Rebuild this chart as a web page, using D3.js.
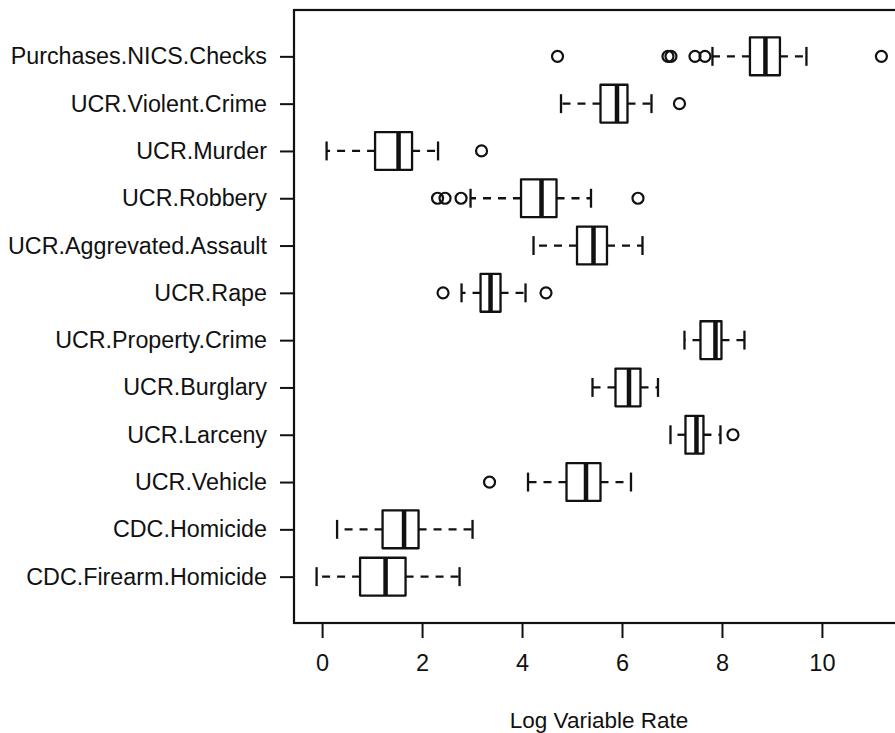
<!DOCTYPE html>
<html>
<head>
<meta charset="utf-8">
<script src="https://cdn.jsdelivr.net/npm/d3@7"></script>
<style>
  html, body { margin: 0; padding: 0; background: #fff; }
  svg { display: block; font-family: "Liberation Sans", Arial, Helvetica, sans-serif; }
  .axis text { fill: #111; }
</style>
</head>
<body>
<div id="chart"></div>
<script>
/* Horizontal boxplots of log rates, R style. */

// top to bottom
var categories = [
  "Purchases.NICS.Checks", "UCR.Violent.Crime", "UCR.Murder", "UCR.Robbery",
  "UCR.Aggrevated.Assault", "UCR.Rape", "UCR.Property.Crime", "UCR.Burglary",
  "UCR.Larceny", "UCR.Vehicle", "CDC.Homicide", "CDC.Firearm.Homicide"
];
var whiskerLow  = [7.81, 4.78, 0.09, 2.97, 4.23, 2.79, 7.25, 5.41, 6.97, 4.12, 0.30, -0.11];
var lowerQuart  = [8.56, 5.57, 1.06, 3.98, 5.10, 3.17, 7.57, 5.87, 7.27, 4.89, 1.21, 0.76];
var medians     = [8.87, 5.90, 1.53, 4.39, 5.43, 3.37, 7.87, 6.14, 7.49, 5.28, 1.64, 1.27];
var upperQuart  = [9.16, 6.11, 1.80, 4.69, 5.70, 3.57, 7.99, 6.37, 7.63, 5.57, 1.93, 1.67];
var whiskerHigh = [9.69, 6.59, 2.32, 5.38, 6.41, 4.07, 8.45, 6.72, 7.97, 6.18, 3.01, 2.75];
var outliers = [
  [4.71, 6.92, 6.98, 7.46, 7.66, 11.19],
  [7.15],
  [3.19],
  [2.31, 2.46, 2.78, 6.32],
  [],
  [2.42, 4.48],
  [],
  [],
  [8.22],
  [3.35],
  [],
  []
];
var xTicks = [0, 2, 4, 6, 8, 10];
var xLabel = "Log Variable Rate";

(function render() {
  var width = 895, height = 733;
  var plot = { left: 294, right: 904, top: 10, bottom: 623 };
  var ink = "#111";
  var n = categories.length;

  var rows = categories.map(function (c, i) {
    return {
      name: c, pos: n - i,
      lo: whiskerLow[i], q1: lowerQuart[i], med: medians[i],
      q3: upperQuart[i], hi: whiskerHigh[i], out: outliers[i]
    };
  });

  // R pads the data range by 4% on each side
  var all = d3.merge([whiskerLow, whiskerHigh, d3.merge(outliers)]);
  var lo = d3.min(all), hi = d3.max(all), pad = (hi - lo) * 0.04;
  var x = d3.scaleLinear().domain([lo - pad, hi + pad]).range([plot.left, plot.right]);
  var ypad = n * 0.04;
  var y = d3.scaleLinear().domain([0.5 - ypad, n + 0.5 + ypad]).range([plot.bottom, plot.top]);
  var half = (y(0) - y(0.4));

  var svg = d3.select("#chart").append("svg")
    .attr("width", width).attr("height", height)
    .attr("viewBox", "0 0 " + width + " " + height);

  svg.append("rect").attr("width", width).attr("height", height).attr("fill", "#fff");

  /* Axes */
  var gx = svg.append("g").attr("class", "axis")
    .attr("transform", "translate(0," + plot.bottom + ")")
    .call(d3.axisBottom(x).tickValues(xTicks).tickSize(15).tickPadding(16).tickFormat(d3.format("d")));
  gx.select(".domain").remove();
  gx.selectAll("line").attr("stroke", ink).attr("stroke-width", 2);
  gx.selectAll("text").attr("font-size", 23.5).attr("font-family", null);

  var gy = svg.append("g").attr("class", "axis")
    .attr("transform", "translate(" + plot.left + ",0)")
    .call(d3.axisLeft(y).tickValues(rows.map(function (r) { return r.pos; }))
      .tickSize(14).tickPadding(13)
      .tickFormat(function (p) { return categories[n - p]; }));
  gy.select(".domain").remove();
  gy.selectAll("line").attr("stroke", ink).attr("stroke-width", 2);
  gy.selectAll("text").attr("font-size", 23.3).attr("font-family", null);

  /* Boxes */
  var g = svg.append("g").attr("stroke", ink).attr("fill", "none");
  rows.forEach(function (r) {
    var cy = y(r.pos);
    var b = g.append("g");
    // whiskers, drawn out from the box edge
    b.append("line").attr("x1", x(r.q1)).attr("x2", x(r.lo)).attr("y1", cy).attr("y2", cy)
      .attr("stroke-width", 2.3).attr("stroke-dasharray", "8,7");
    b.append("line").attr("x1", x(r.q3)).attr("x2", x(r.hi)).attr("y1", cy).attr("y2", cy)
      .attr("stroke-width", 2.3).attr("stroke-dasharray", "8,7");
    // staples
    [r.lo, r.hi].forEach(function (v) {
      b.append("line").attr("x1", x(v)).attr("x2", x(v))
        .attr("y1", cy - half / 2).attr("y2", cy + half / 2).attr("stroke-width", 2.3);
    });
    b.append("rect")
      .attr("x", x(r.q1)).attr("y", cy - half)
      .attr("width", x(r.q3) - x(r.q1)).attr("height", half * 2)
      .attr("fill", "#fff").attr("stroke-width", 2.3).attr("stroke-linejoin", "round");
    b.append("line").attr("x1", x(r.med)).attr("x2", x(r.med))
      .attr("y1", cy - half).attr("y2", cy + half).attr("stroke-width", 4.5);
    b.selectAll("circle").data(r.out).enter().append("circle")
      .attr("cx", function (v) { return x(v); }).attr("cy", cy)
      .attr("r", 5.5).attr("stroke-width", 2.2);
  });

  /* Frame */
  svg.append("rect")
    .attr("x", plot.left).attr("y", plot.top)
    .attr("width", plot.right - plot.left).attr("height", plot.bottom - plot.top)
    .attr("fill", "none").attr("stroke", ink).attr("stroke-width", 2.2);

  svg.append("text")
    .attr("x", (plot.left + plot.right) / 2).attr("y", 728)
    .attr("text-anchor", "middle").attr("font-size", 22.5).attr("fill", ink)
    .text(xLabel);
})();
</script>
</body>
</html>
